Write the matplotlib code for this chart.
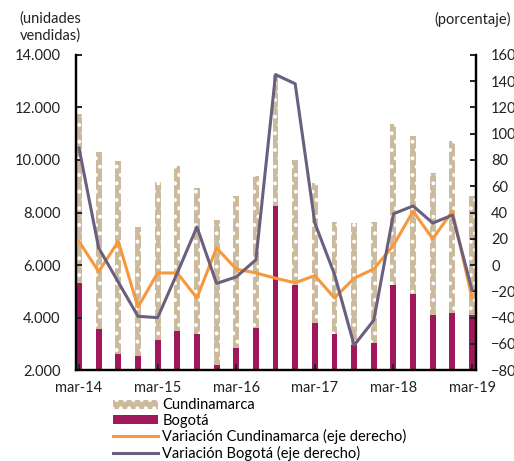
import numpy as np
import matplotlib
matplotlib.use("Agg")
import matplotlib.pyplot as plt

plt.rcParams['font.family'] = ['Lato', 'DejaVu Sans']
plt.rcParams['hatch.linewidth'] = 1.6

# quarterly data, mar-14 .. mar-19
quarters = ['mar-14', 'jun-14', 'sep-14', 'dic-14', 'mar-15', 'jun-15', 'sep-15', 'dic-15',
            'mar-16', 'jun-16', 'sep-16', 'dic-16', 'mar-17', 'jun-17', 'sep-17', 'dic-17',
            'mar-18', 'jun-18', 'sep-18', 'dic-18', 'mar-19']
cundinamarca = [11750, 10300, 9950, 7450, 9160, 9770, 8920, 7700, 8630, 9400, 13240,
                10000, 9110, 7650, 7590, 7650, 11370, 10910, 9520, 10720, 8630]
bogota = [5300, 3560, 2610, 2545, 3140, 3500, 3370, 2190, 2850, 3620, 8260,
          5240, 3800, 3370, 2950, 3020, 5240, 4900, 4100, 4160, 4100]
var_cund = [18, -5, 18, -32, -6, -6, -25, 13, -3, -6, -10,
            -13.5, -8, -25, -10, -3, 15, 41, 20, 41, -25]
var_bog = [89, 13, -13, -39, -40, -6, 29, -14, -9, 4, 145,
           138, 32, -7, -61, -42, 39, 45, 32, 38, -19]

tan = '#cbbb9c'
magenta = '#a0185b'
orange = '#f7983c'
purple = '#6a5f7e'

x = np.arange(len(quarters))

fig = plt.figure(figsize=(5.14, 4.61), dpi=100)
ax = fig.add_axes([0.148, 0.197, 0.778, 0.684])
ax2 = ax.twinx()

ax.bar(x, cundinamarca, width=0.3, color=tan, edgecolor='white', linewidth=0,
       hatch='..', label='Cundinamarca')
ax.bar(x, bogota, width=0.3, color=magenta, linewidth=0, label='Bogotá')
ax2.plot(x, var_cund, color=orange, lw=2.2, label='Variación Cundinamarca (eje derecho)')
ax2.plot(x, var_bog, color=purple, lw=2.2, label='Variación Bogotá (eje derecho)')

ax.set_xlim(-0.15, 20.2)
ax.set_ylim(2000, 14000)
ax.set_yticks(range(2000, 14001, 2000))
ax.set_yticklabels([f'{v:,}'.replace(',', '.') for v in range(2000, 14001, 2000)])
ax2.set_ylim(-80, 160)
ax2.set_yticks(range(-80, 161, 20))

ax.set_xticks(x[::4])
ax.set_xticklabels(quarters[::4])

for a in (ax, ax2):
    a.spines['top'].set_visible(False)
    a.spines['left'].set_linewidth(1.6)
    a.spines['right'].set_linewidth(1.6)
    a.spines['bottom'].set_linewidth(1.6)
    a.tick_params(direction='in', length=4, width=1.4, labelsize=10.5, colors='#222222')
ax.tick_params(axis='y', pad=11)
ax2.tick_params(axis='y', pad=11)
ax.tick_params(axis='x', pad=8)
ax.set_zorder(ax2.get_zorder() - 1)
ax2.patch.set_visible(False)

fig.text(0.038, 0.975, '(unidades\nvendidas)', fontsize=10.5, va='top', ha='left',
         linespacing=1.25, color='#222222')
fig.text(0.845, 0.975, '(porcentaje)', fontsize=10.5, va='top', ha='left', color='#222222')

h1, l1 = ax.get_legend_handles_labels()
h2, l2 = ax2.get_legend_handles_labels()
fig.legend(h1 + h2, l1 + l2, loc='upper left', bbox_to_anchor=(0.219, 0.136),
           frameon=False, fontsize=10.5, handlelength=3.1, handletextpad=0.3,
           labelspacing=0.1, borderpad=0, borderaxespad=0, handleheight=0.6)

fig.savefig('out.png', dpi=100)
